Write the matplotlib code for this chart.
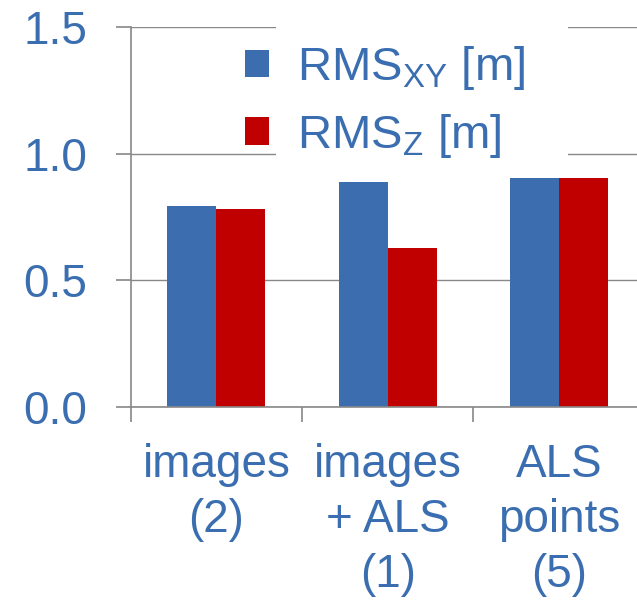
import matplotlib
matplotlib.use('Agg')
import matplotlib.pyplot as plt
from matplotlib.patches import Rectangle
from matplotlib.ticker import FixedLocator
import numpy as np

# Data
categories = ['images\n(2)', 'images\n+ ALS\n(1)', 'ALS\npoints\n(5)']
rms_xy = [0.793, 0.888, 0.903]
rms_z = [0.783, 0.628, 0.905]
series_labels = [r'RMS$_{\mathregular{XY}}$ [m]', r'RMS$_{\mathregular{Z}}$ [m]']
yticks = [0.0, 0.5, 1.0, 1.5]
ytick_labels = ['0.0', '0.5', '1.0', '1.5']

# Style
plt.rcParams['font.family'] = ['Liberation Sans', 'DejaVu Sans']
plt.rcParams['mathtext.fontset'] = 'custom'
plt.rcParams['mathtext.rm'] = 'Liberation Sans'
text_color = '#3A6EB0'
blue = '#3B6DAF'
red = '#C00000'
axis_gray = '#888888'

W, H = 637, 601
fig = plt.figure(figsize=(W / 100, H / 100), dpi=100)
ax_left, ax_right, ax_bottom, ax_top = 130.7, 644.7, 407.3, 26.7
ax = fig.add_axes([ax_left / W, (H - ax_bottom) / H,
                   (ax_right - ax_left) / W, (ax_bottom - ax_top) / H])

x = np.arange(len(categories))
bw = 1 / 3.5
ax.bar(x - bw / 2, rms_xy, width=bw, color=blue, label=series_labels[0], zorder=2)
ax.bar(x + bw / 2, rms_z, width=bw, color=red, label=series_labels[1], zorder=2)

ax.set_xlim(-0.5, len(categories) - 0.5)
ax.set_ylim(0, 1.5)

# Axes, grid, ticks
for side in ('top', 'right'):
    ax.spines[side].set_visible(False)
for side in ('left', 'bottom'):
    ax.spines[side].set_color(axis_gray)
    ax.spines[side].set_linewidth(1.2)
ax.set_axisbelow(True)
ax.yaxis.grid(True, color=axis_gray, linewidth=1.0)

ax.set_yticks(yticks)
ax.set_yticklabels(ytick_labels)
ax.tick_params(axis='y', direction='out', length=10.5, width=1.2, color=axis_gray,
               labelsize=33, labelcolor=text_color, pad=21)

ax.set_xticks(x)
ax.set_xticklabels(categories, linespacing=1.32)
ax.xaxis.set_minor_locator(FixedLocator(np.arange(len(categories) + 1) - 0.5))
ax.tick_params(axis='x', which='major', length=0, labelsize=33,
               labelcolor=text_color, pad=26)
ax.tick_params(axis='x', which='minor', direction='out', length=10.5, width=1.2,
               color=axis_gray)

# White backing behind the legend hides the gridlines there
ax.add_patch(Rectangle((0.282, 0.65), 0.569, 0.37, transform=ax.transAxes,
                       facecolor='white', edgecolor='none', zorder=1, clip_on=False))

leg = ax.legend(loc='upper left', bbox_to_anchor=(245 / W, (H - 44) / H),
                bbox_transform=fig.transFigure, frameon=False, fontsize=34,
                labelcolor=text_color, handlelength=0.51, handleheight=0.51,
                handletextpad=0.6, labelspacing=0.42, borderpad=0, borderaxespad=0)
leg.set_zorder(5)

fig.savefig('out.png', dpi=100)
